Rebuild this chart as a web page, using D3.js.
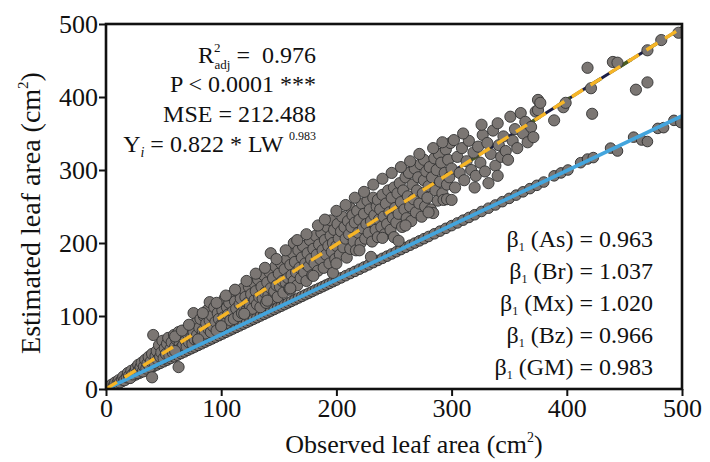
<!DOCTYPE html>
<html>
<head>
<meta charset="utf-8">
<script src="https://cdn.jsdelivr.net/npm/d3@7"></script>
<style>
  body { margin: 0; background: #fff; }
  text { font-family: "Liberation Serif", "Times New Roman", serif; fill: #111; white-space: pre; }
</style>
</head>
<body>
<div id="viz"></div>
<script>

// scatter of estimated vs observed leaf area (cm2)
var upperPoints = [
  [2,3],[4,2],[5,6],[7,5],[8,9],[10,8],[11,12],[12,9],[14,13],[15,17],[16,12],[18,16],[19,22],[20,18],[21,15],[22,25],[23,20],[25,24],[26,29],[27,22],[28,33],[29,26],[30,30],[31,36],[32,24],[33,31],[34,40],[35,28],[36,35],[37,44],[38,30],[39,38],[40,16],[40,48],
  [41,74],[42,36],[43,45],[44,52],[45,40],[46,60],[47,44],[48,50],[49,66],[50,42],[51,56],[52,48],[53,62],[54,70],[55,46],[56,55],[57,64],[58,50],[59,74],[60,58],[61,68],[62,52],[63,30],[63,78],[64,62],[65,56],[66,72],[67,60],[68,80],[69,66],[70,58],[71,75],[72,64],[73,86],[74,70],[75,62],[76,104],[76,78],[77,68],[78,90],[79,74],[80,66],
  [81,84],[82,96],[83,72],[84,80],[85,100],[86,76],[87,90],[88,108],[89,82],[90,119],[90,94],[91,78],[92,100],[93,86],[94,112],[95,92],[96,80],[97,104],[98,96],[99,116],[100,88],[101,108],[102,98],[103,124],[104,90],[105,112],[106,102],[107,118],[108,94],[109,128],[110,106],[111,96],[112,120],[113,110],[114,134],[115,100],[116,116],[117,124],[118,104],[119,138],[120,112],
  [121,126],[122,108],[123,118],[124,140],[125,114],[126,130],[127,110],[128,146],[129,122],[130,134],[131,116],[132,150],[133,126],[134,112],[135,140],[136,124],[137,156],[138,132],[139,118],[140,146],[141,128],[142,160],[143,186],[143,138],[144,124],[145,152],[146,134],[147,168],[148,142],[149,126],[150,158],[151,140],[152,172],[153,148],[154,132],[155,164],[156,146],[157,178],[158,152],[159,138],[160,136],[160,170],
  [161,156],[162,186],[163,200],[163,148],[164,174],[165,160],[166,142],[167,190],[168,166],[169,152],[170,180],[171,196],[172,160],[173,172],[174,148],[175,186],[176,168],[177,204],[178,178],[179,156],[180,192],[181,172],[182,210],[183,184],[184,162],[185,198],[186,178],[187,214],[188,190],[189,166],[190,204],[191,184],[192,222],[193,196],[194,172],[195,231],[195,210],[196,188],[197,159],[197,200],[198,218],[199,178],[200,196],
  [201,226],[202,206],[203,184],[204,216],[205,236],[206,194],[207,222],[208,206],[209,180],[210,230],[211,212],[212,248],[212,192],[213,222],[214,238],[215,202],[216,228],[217,190],[218,244],[219,214],[220,232],[221,200],[222,254],[223,220],[224,240],[225,206],[226,226],[227,258],[228,214],[229,246],[230,181],[230,230],[231,202],[232,262],[233,238],[234,218],[235,250],[236,259],[236,208],[237,232],[238,246],[239,222],[240,266],
  [241,236],[242,212],[243,254],[244,226],[245,272],[246,242],[247,218],[248,262],[249,234],[250,208],[250,276],[251,248],[252,228],[253,268],[254,203],[254,240],[255,282],[256,256],[257,222],[258,272],[259,246],[260,290],[261,234],[262,264],[263,296],[264,250],[265,230],[266,280],[267,260],[268,302],[269,242],[270,272],[271,290],[272,254],[273,308],[274,236],[275,268],[276,314],[276,286],[277,250],[278,298],[279,262],[280,278],
  [281,304],[282,246],[283,290],[284,241],[285,316],[286,272],[287,300],[288,258],[289,322],[290,284],[291,310],[292,268],[293,259],[294,296],[295,328],[296,260],[296,280],[297,314],[298,290],[299,337],[300,302],[302,341],[303,276],[305,318],[307,296],[309,330],[311,286],[313,312],[315,340],[317,300],[319,324],
  [321,292],[323,332],[325,310],[327,348],[329,298],[331,337],[332,282],[334,322],[336,354],[338,306],[340,364],[341,334],[343,318],[345,346],[347,326],[349,314],[351,373],[353,340],[355,356],[357,330],[360,378],[362,350],[364,366],[366,338],[369,359],[371,345],[373,380],[375,396],[375,382],[377,392],
  [389,368],[397,386],[399,392],[418,440],[421,412],[422,377],[440,448],[444,447],[460,410],[470,420],[470,464],[482,478],[497,488],
  // upper edge of the band
  [60,72],[66,80],[72,88],[84,104],[96,118],[104,128],[112,136],[122,148],[130,158],[138,166],[148,178],[156,190],[166,204],[174,212],[184,224],[190,232],[200,244],[208,252],[216,262],[224,270],[232,280],[240,288],[248,296],[256,304],[264,312],[272,322],[284,330],[292,338],[310,350],[326,362],
  // lower edge of the band
  [60,52],[80,68],[100,86],[120,103],[140,121],[160,138],[180,155],[200,172],[220,190],[240,207],[260,224],[280,242],[300,259],[320,276],[340,292]
];

var lowerPoints = [
  [2,1.5],[5,3.7],[8,6],[11,8.2],[14,10.4],[17,12.7],[20,14.9],[23,17.2],[26,19.4],[29,21.6],[32,23.9],[35,26.1],[38,28.3],[41,30.6],[44,32.8],[47,35.1],[50,37.3],[53,39.5],[56,41.8],[59,44],[62,46.3],[65,48.5],[68,50.7],[71,53],[74,55.2],[77,57.4],[80,59.7],[83,61.9],[86,64.2],[89,66.4],[92,68.6],[95,70.9],[98,73.1],
  [101,75.3],[104,77.6],[107,79.8],[110,82.1],[113,84.3],[116,86.5],[119,88.8],[122,91],[125,93.3],[128,95.5],[131,97.7],[134,100],[137,102.2],[140,104.4],[143,106.7],[146,108.9],[149,111.2],[152,113.4],[155,115.6],[158,117.9],[161,120.1],[164,122.3],[167,124.6],[170,126.8],[173,129.1],[176,131.3],[179,133.5],[182,135.8],[185,138],[188,140.2],[191,142.5],[194,144.7],[197,147],[200,149.2],
  [204,152.2],[208,155.2],[212,158.2],[216,161.1],[220,164.1],[224,167.1],[228,170.1],[232,173.1],[236,176.1],[240,179],[244,182],[248,185],[252,188],[256,191],[260,194],[264,197],[268,199.9],[272,202.9],[276,205.9],[280,208.9],[285,212.6],[290,216.3],[295,220.1],[300,223.8],
  [305,227.5],[310,231.3],[315,235],[320,238.7],[326,243.2],[332,247.7],[338,252.1],[344,256.6],[350,261.1],[356,265.6],[362,270.1],[368,274.5],[374,279],[380,283.5],
  [389,292],[395,296],[401,300],[412,310],[418,315],[423,317],[438,330],[444,326],[458,345],[465,341],[470,339],[479,357],[484,358],[493,368],[499,365]
];

var fitLine = [[0,0],[500,495]];
var lowerLine = [[0,0],[500,374]];

var xTicks = [0,100,200,300,400,500];
var yTicks = [0,100,200,300,400,500];

var statLines = ['P < 0.0001 ***', 'MSE = 212.488'];
var betaGroups = ['As','Br','Mx','Bz','GM'];
var betaValues = ['0.963','1.037','1.020','0.966','0.983'];

var width = 710,
    height = 462;

var pLeft = 106, pRight = 682, pTop = 24, pBottom = 389;

var svg = d3.select('#viz').append('svg')
  .attr('width', width)
  .attr('height', height)

var x = d3.scaleLinear().domain([0,500]).range([pLeft,pRight]);
var y = d3.scaleLinear().domain([0,500]).range([pBottom,pTop]);

var line = d3.line()
  .x(function(d){return x(d[0])})
  .y(function(d){return y(d[1])})

svg.append('defs').append('clipPath')
  .attr('id','plotclip')
  .append('rect')
  .attr('x',pLeft).attr('y',pTop)
  .attr('width',pRight-pLeft).attr('height',pBottom-pTop)

var plot = svg.append('g').attr('clip-path','url(#plotclip)')

// fit lines under the upper cloud
plot.append('path')
  .datum(fitLine)
  .attr('d', line)
  .attr('fill','none')
  .attr('stroke','#1c1f45')
  .attr('stroke-width',3)

plot.append('path')
  .datum(fitLine)
  .attr('d', line)
  .attr('fill','none')
  .attr('stroke','#4d5e22')
  .attr('stroke-width',3.5)
  .attr('stroke-dasharray','14,22')
  .attr('stroke-dashoffset',6)

plot.selectAll('.lowpt')
  .data(lowerPoints)
  .enter()
  .append('circle')
  .attr('class','lowpt')
  .attr('cx', function(d){return x(d[0])})
  .attr('cy', function(d){return y(d[1])})
  .attr('r',5.3)
  .attr('fill','#7b7673')
  .attr('stroke','#2a2a2a')
  .attr('stroke-width',0.9)

plot.selectAll('.uppt')
  .data(upperPoints)
  .enter()
  .append('circle')
  .attr('class','uppt')
  .attr('cx', function(d){return x(d[0])})
  .attr('cy', function(d){return y(d[1])})
  .attr('r',5.6)
  .attr('fill','#7b7673')
  .attr('stroke','#333')
  .attr('stroke-width',0.9)

plot.append('path')
  .datum(lowerLine)
  .attr('d', line)
  .attr('fill','none')
  .attr('stroke','#43a5dd')
  .attr('stroke-width',3.6)

plot.append('path')
  .datum(fitLine)
  .attr('d', line)
  .attr('fill','none')
  .attr('stroke','#f6b526')
  .attr('stroke-width',3.4)
  .attr('stroke-dasharray','13,9')

// frame
svg.append('rect')
  .attr('x',pLeft).attr('y',pTop)
  .attr('width',pRight-pLeft).attr('height',pBottom-pTop)
  .attr('fill','none')
  .attr('stroke','#111')
  .attr('stroke-width',2.6)

// axes
var xAxis = svg.append('g')
  .attr('transform','translate(0,' + pBottom + ')')
  .call(d3.axisBottom(x).tickValues(xTicks).tickSize(7).tickPadding(3))
xAxis.select('.domain').remove();
xAxis.selectAll('line').attr('stroke','#111').attr('stroke-width',2);
xAxis.selectAll('text').attr('font-size',26).attr('font-family','"Liberation Serif", serif').attr('fill','#111');

var yAxis = svg.append('g')
  .attr('transform','translate(' + pLeft + ',0)')
  .call(d3.axisLeft(y).tickValues(yTicks).tickSize(7).tickPadding(1))
yAxis.select('.domain').remove();
yAxis.selectAll('line').attr('stroke','#111').attr('stroke-width',2);
yAxis.selectAll('text').attr('font-size',26).attr('font-family','"Liberation Serif", serif').attr('fill','#111');

// axis titles
var xt = svg.append('text')
  .attr('x', 414).attr('y', 453)
  .attr('text-anchor','middle')
  .attr('font-size',26)
xt.append('tspan').text('Observed leaf area (cm')
xt.append('tspan').attr('font-size',14).attr('dy',-11).text('2')
xt.append('tspan').attr('dy',11).text(')')

var yt = svg.append('text')
  .attr('transform','translate(40,213) rotate(-90)')
  .attr('text-anchor','middle')
  .attr('font-size',28)
yt.append('tspan').text('Estimated leaf area (cm')
yt.append('tspan').attr('font-size',15).attr('dy',-12).text('2')
yt.append('tspan').attr('dy',12).text(')')

// statistics block
var statX = 316;

var r2 = svg.append('text').attr('x',statX).attr('y',63).attr('text-anchor','end').attr('font-size',24)
r2.append('tspan').text('R')
r2.append('tspan').attr('font-size',13).attr('dy',-11).text('2')
r2.append('tspan').attr('font-size',13).attr('dy',17).attr('dx',-6).text('adj')
r2.append('tspan').attr('dy',-6).text(' =  0.976')

svg.selectAll('.stat')
  .data(statLines)
  .enter()
  .append('text')
  .attr('class','stat')
  .attr('x',statX)
  .attr('y',function(d,i){return 92 + i*30})
  .attr('text-anchor','end')
  .attr('font-size',24)
  .text(function(d){return d})

var yi = svg.append('text').attr('x',statX).attr('y',152).attr('text-anchor','end').attr('font-size',24)
yi.append('tspan').text('Y')
yi.append('tspan').attr('font-size',14).attr('font-style','italic').attr('dy',5).text('i')
yi.append('tspan').attr('dy',-5).text(' = 0.822 * LW ')
yi.append('tspan').attr('font-size',12).attr('dy',-12).text('0.983')

// slopes by group
var betas = svg.selectAll('.beta')
  .data(betaGroups)
  .enter()
  .append('text')
  .attr('class','beta')
  .attr('x',653)
  .attr('y',function(d,i){return 247 + i*32})
  .attr('text-anchor','end')
  .attr('font-size',24)

betas.append('tspan').text('β')
betas.append('tspan').attr('font-size',12).attr('dy',4).text('1')
betas.append('tspan').attr('dy',-4).text(function(d,i){return ' (' + d + ') = ' + betaValues[i]})

</script>
</body>
</html>
